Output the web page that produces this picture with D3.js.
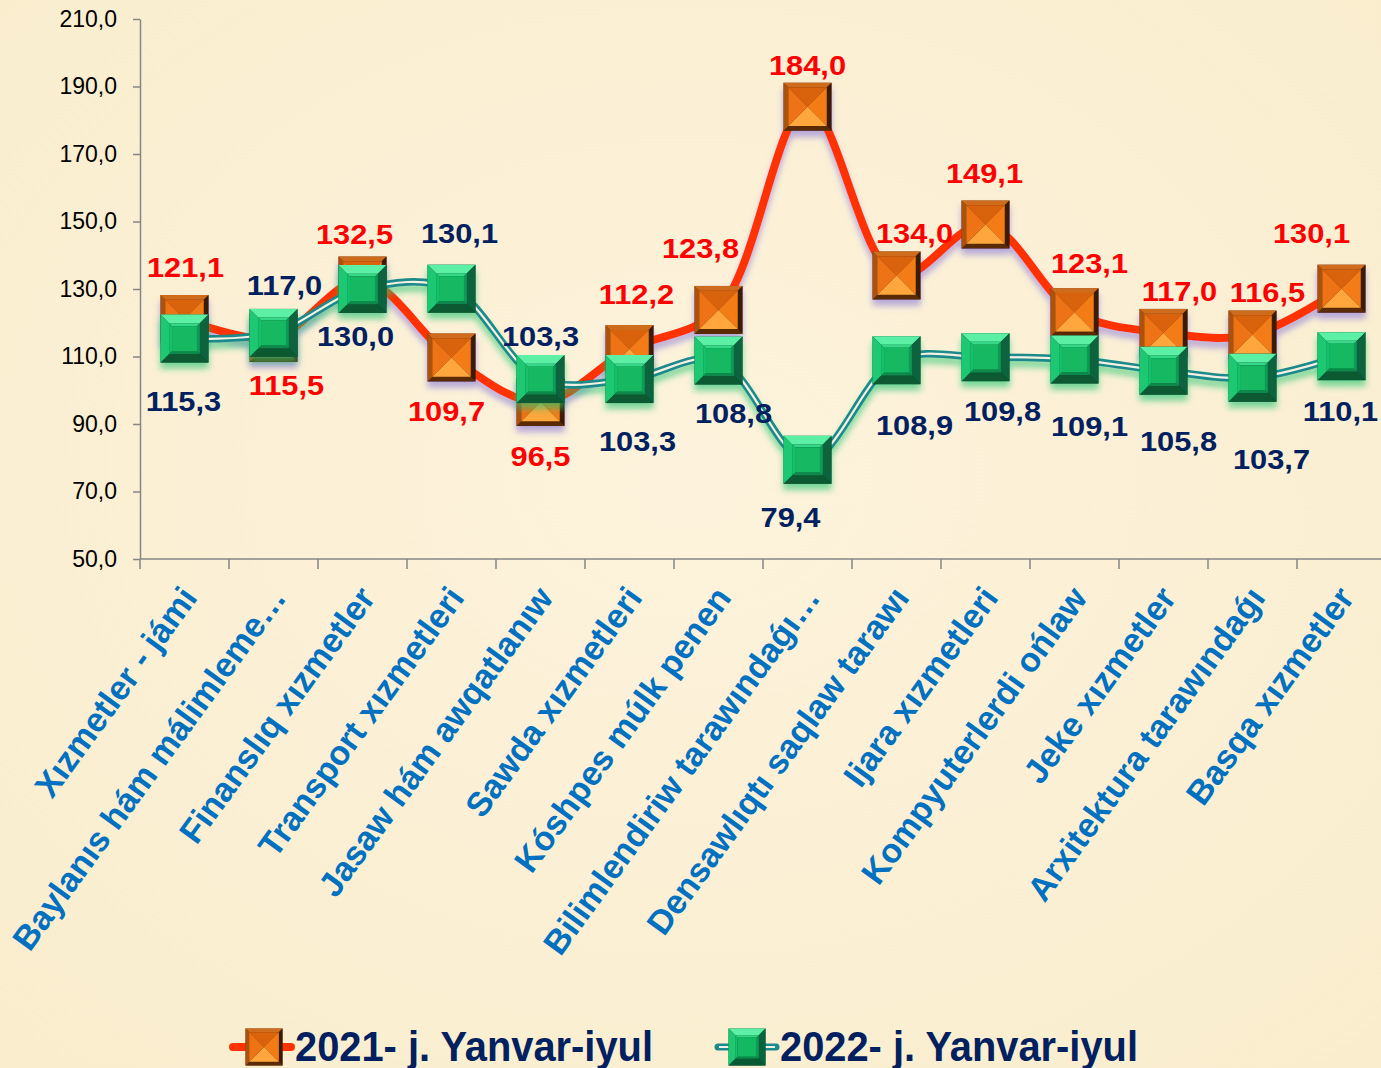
<!DOCTYPE html>
<html>
<head>
<meta charset="utf-8">
<script src="https://cdn.jsdelivr.net/npm/d3@7"></script>
<style>
  body { margin: 0; background: #fbf0d5; }
  svg { display: block; }
</style>
</head>
<body>
<div class="chart"></div>
<script>
// data
const categories = [
  'Xızmetler - jámi',
  'Baylanıs hám málimleme…',
  'Finanslıq xızmetler',
  'Transport xızmetleri',
  'Jasaw hám awqatlanıw',
  'Sawda xızmetleri',
  'Kóshpes múlk penen',
  'Bilimlendiriw tarawındaǵı…',
  'Densawlıqtı saqlaw tarawı',
  'Ijara xızmetleri',
  'Kompyuterlerdi ońlaw',
  'Jeke xızmetler',
  'Arxitektura tarawındaǵı',
  'Basqa xızmetler'
];
const values2021 = [121.1, 115.5, 132.5, 109.7, 96.5, 112.2, 123.8, 184.0, 134.0, 149.1, 123.1, 117.0, 116.5, 130.1];
const values2022 = [115.3, 117.0, 130.0, 130.1, 103.3, 103.3, 108.8, 79.4, 108.9, 109.8, 109.1, 105.8, 103.7, 110.1];
const yTicks = [50, 70, 90, 110, 130, 150, 170, 190, 210];
const seriesNames = ['2021- j. Yanvar-iyul', '2022- j. Yanvar-iyul'];

// where each data label sits relative to its marker (layout only)
const labelOffset2021 = [[1,-52],[13,47],[-8,-47],[-5,53],[0,54],[7,-55],[-18,-62],[0,-42],[18,-43],[-1,-52],[15,-49],[16,-42],[15,-43],[-30,-56]];
const labelOffset2022 = [[-1,62],[11,-48],[-7,47],[8,-56],[0,-43],[8,62],[15,52],[-17,57],[18,65],[17,54],[15,66],[15,70],[19,81],[-1,55]];

const width = 1381;
const height = 1068;
const fmt = v => d3.format('.1f')(v).replace('.', ',');

const svg = d3.select('.chart')
  .append('svg')
  .attr('width', width)
  .attr('height', height)
  .style('font-family', '"Liberation Sans", Arial, sans-serif');

const defs = svg.append('defs');

function shadowFilter(id, color, opacity){
  const f = defs.append('filter').attr('id', id)
    .attr('filterUnits', 'userSpaceOnUse')
    .attr('x', 0).attr('y', 0).attr('width', width).attr('height', height);
  f.append('feGaussianBlur').attr('in', 'SourceAlpha').attr('stdDeviation', 3).attr('result', 'blur');
  f.append('feOffset').attr('in', 'blur').attr('dy', 6).attr('result', 'off');
  f.append('feFlood').attr('flood-color', color).attr('flood-opacity', opacity);
  f.append('feComposite').attr('in2', 'off').attr('operator', 'in').attr('result', 'shadow');
  const m = f.append('feMerge');
  m.append('feMergeNode').attr('in', 'shadow');
  m.append('feMergeNode').attr('in', 'SourceGraphic');
}
shadowFilter('shadowOrange', '#8a7ad8', 0.6);
shadowFilter('shadowGreen', '#22c470', 0.6);

const bg = defs.append('radialGradient').attr('id', 'bgGrad').attr('cx', '50%').attr('cy', '45%').attr('r', '75%');
bg.append('stop').attr('offset', '0%').attr('stop-color', '#fdf3dc');
bg.append('stop').attr('offset', '100%').attr('stop-color', '#f9edcd');

svg.append('rect')
  .attr('width', width)
  .attr('height', height)
  .attr('fill', 'url(#bgGrad)');

// scales
const x = d3.scaleBand()
  .domain(categories)
  .range([140, 1386])
  .paddingInner(0)
  .paddingOuter(0);

const y = d3.scaleLinear()
  .domain([50, 210])
  .range([559, 19]);

const cx = d => x(d) + x.bandwidth()/2;

// y axis
const yAxis = svg.append('g')
  .attr('transform', 'translate(140,0)')
  .call(d3.axisLeft(y).tickValues(yTicks).tickSize(7).tickSizeOuter(0).tickPadding(16).tickFormat(fmt));
yAxis.select('.domain').attr('stroke', '#868686').attr('stroke-width', 1.5);
yAxis.selectAll('.tick line').attr('stroke', '#868686').attr('stroke-width', 1.5);
yAxis.selectAll('.tick text')
  .attr('font-size', 23)
  .attr('fill', '#000')
  .attr('font-family', '"Liberation Sans", Arial, sans-serif');

// x axis: ticks between categories
const xAxis = svg.append('g')
  .attr('transform', 'translate(0,559)');
xAxis.append('line')
  .attr('x1', 140).attr('x2', 1386)
  .attr('stroke', '#868686').attr('stroke-width', 1.5);
xAxis.selectAll('line.tk')
  .data(categories)
  .enter()
  .append('line')
  .attr('class', 'tk')
  .attr('x1', d=>x(d))
  .attr('x2', d=>x(d))
  .attr('y1', 0).attr('y2', 10)
  .attr('stroke', '#868686').attr('stroke-width', 1.5);

svg.selectAll('text.cat')
  .data(categories)
  .enter()
  .append('text')
  .attr('class', 'cat')
  .text(d=>d)
  .attr('transform', d=>`translate(${cx(d)+14},598) rotate(-54)`)
  .attr('text-anchor', 'end')
  .attr('font-size', 34)
  .attr('font-weight', 'bold')
  .attr('fill', '#0070c0');

// markers
const poly = pts => pts.map(p=>p.join(',')).join(' ');

function bevel(g, h, i, c){
  g.append('polygon').attr('points', poly([[-h,-h],[h,-h],[i,-i],[-i,-i]])).attr('fill', c[0]);
  g.append('polygon').attr('points', poly([[h,-h],[h,h],[i,i],[i,-i]])).attr('fill', c[2]);
  g.append('polygon').attr('points', poly([[h,h],[-h,h],[-i,i],[i,i]])).attr('fill', c[3]);
  g.append('polygon').attr('points', poly([[-h,h],[-h,-h],[-i,-i],[-i,i]])).attr('fill', c[1]);
}

function orangeMarker(g, size){
  const h = size/2, i = h - size*0.1;
  g.append('rect').attr('x', -h).attr('y', -h).attr('width', size).attr('height', size).attr('fill', '#6a3306');
  bevel(g, h, i, ['#cf6c1e', '#a9520f', '#3a1a03', '#5a2c06']);
  bevel(g, i, 0.01, ['#d9620b', '#ee7314', '#f37b16', '#ffa63e']);
}

function greenMarker(g, size){
  const h = size/2, i = h - size*0.18, k = i - size*0.06;
  g.append('rect').attr('x', -h).attr('y', -h).attr('width', size).attr('height', size).attr('fill', '#05482a');
  bevel(g, h, i, ['#5cf0a4', '#1ec872', '#07643c', '#085a33']);
  bevel(g, i, k, ['#34d886', '#19bf6b', '#0f9a54', '#0c8a4b']);
  g.append('rect').attr('x', -k).attr('y', -k).attr('width', 2*k).attr('height', 2*k).attr('fill', '#12b862');
}

const curve = d3.curveCatmullRom.alpha(0.5);
const line = d3.line()
  .x((d,i)=>cx(categories[i]))
  .y(d=>y(d))
  .curve(curve);

// 2021 series
const g21 = svg.append('g').attr('filter', 'url(#shadowOrange)');
g21.append('path')
  .attr('d', line(values2021))
  .attr('fill', 'none')
  .attr('stroke', '#ff3300')
  .attr('stroke-width', 8)
  .attr('stroke-linecap', 'round');
g21.selectAll('g.m')
  .data(values2021)
  .enter()
  .append('g')
  .attr('class', 'm')
  .attr('transform', (d,i)=>`translate(${cx(categories[i])},${y(d)})`)
  .each(function(){ orangeMarker(d3.select(this), 48); });

// 2022 series
const g22 = svg.append('g').attr('filter', 'url(#shadowGreen)');
g22.append('path')
  .attr('d', line(values2022))
  .attr('fill', 'none')
  .attr('stroke', '#1b8a8a')
  .attr('stroke-width', 7.5);
g22.append('path')
  .attr('d', line(values2022))
  .attr('fill', 'none')
  .attr('stroke', '#f4f1e2')
  .attr('stroke-width', 2.2);
g22.selectAll('g.m')
  .data(values2022)
  .enter()
  .append('g')
  .attr('class', 'm')
  .attr('transform', (d,i)=>`translate(${cx(categories[i])},${y(d)})`)
  .each(function(){ greenMarker(d3.select(this), 48); });

// data labels
function labels(values, offsets, color, cls){
  svg.selectAll('text.' + cls)
    .data(values)
    .enter()
    .append('text')
    .attr('class', cls)
    .text(d=>fmt(d))
    .attr('transform', (d,i)=>`translate(${cx(categories[i]) + offsets[i][0]},${y(d) + offsets[i][1]}) scale(1.1,1)`)
    .attr('dy', '0.36em')
    .attr('text-anchor', 'middle')
    .attr('font-size', 28)
    .attr('font-weight', 'bold')
    .attr('fill', color);
}
labels(values2021, labelOffset2021, '#ff0000', 'l21');
labels(values2022, labelOffset2022, '#002060', 'l22');

// legend
const legendX = [233, 718];
const legend = svg.selectAll('g.legend')
  .data(seriesNames)
  .enter()
  .append('g')
  .attr('class', 'legend')
  .attr('transform', (d,i)=>`translate(${legendX[i]},1047)`);

legend.each(function(d,i){
  const g = d3.select(this);
  if (i === 0) {
    g.append('line').attr('x1', 0).attr('x2', 58).attr('stroke', '#ff3300').attr('stroke-width', 8).attr('stroke-linecap', 'round');
    orangeMarker(g.append('g').attr('transform', 'translate(31,0)'), 37);
  } else {
    g.append('line').attr('x1', 0).attr('x2', 58).attr('stroke', '#1b8a8a').attr('stroke-width', 7).attr('stroke-linecap', 'round');
    g.append('line').attr('x1', 1).attr('x2', 57).attr('stroke', '#f4f1e2').attr('stroke-width', 2.2);
    greenMarker(g.append('g').attr('transform', 'translate(29,0)'), 37);
  }
  g.append('text')
    .text(d)
    .attr('x', 62)
    .attr('y', 14)
    .attr('font-size', 42)
    .attr('font-weight', 'bold')
    .attr('fill', '#002060')
    .attr('textLength', 358)
    .attr('lengthAdjust', 'spacingAndGlyphs');
});
</script>
</body>
</html>
